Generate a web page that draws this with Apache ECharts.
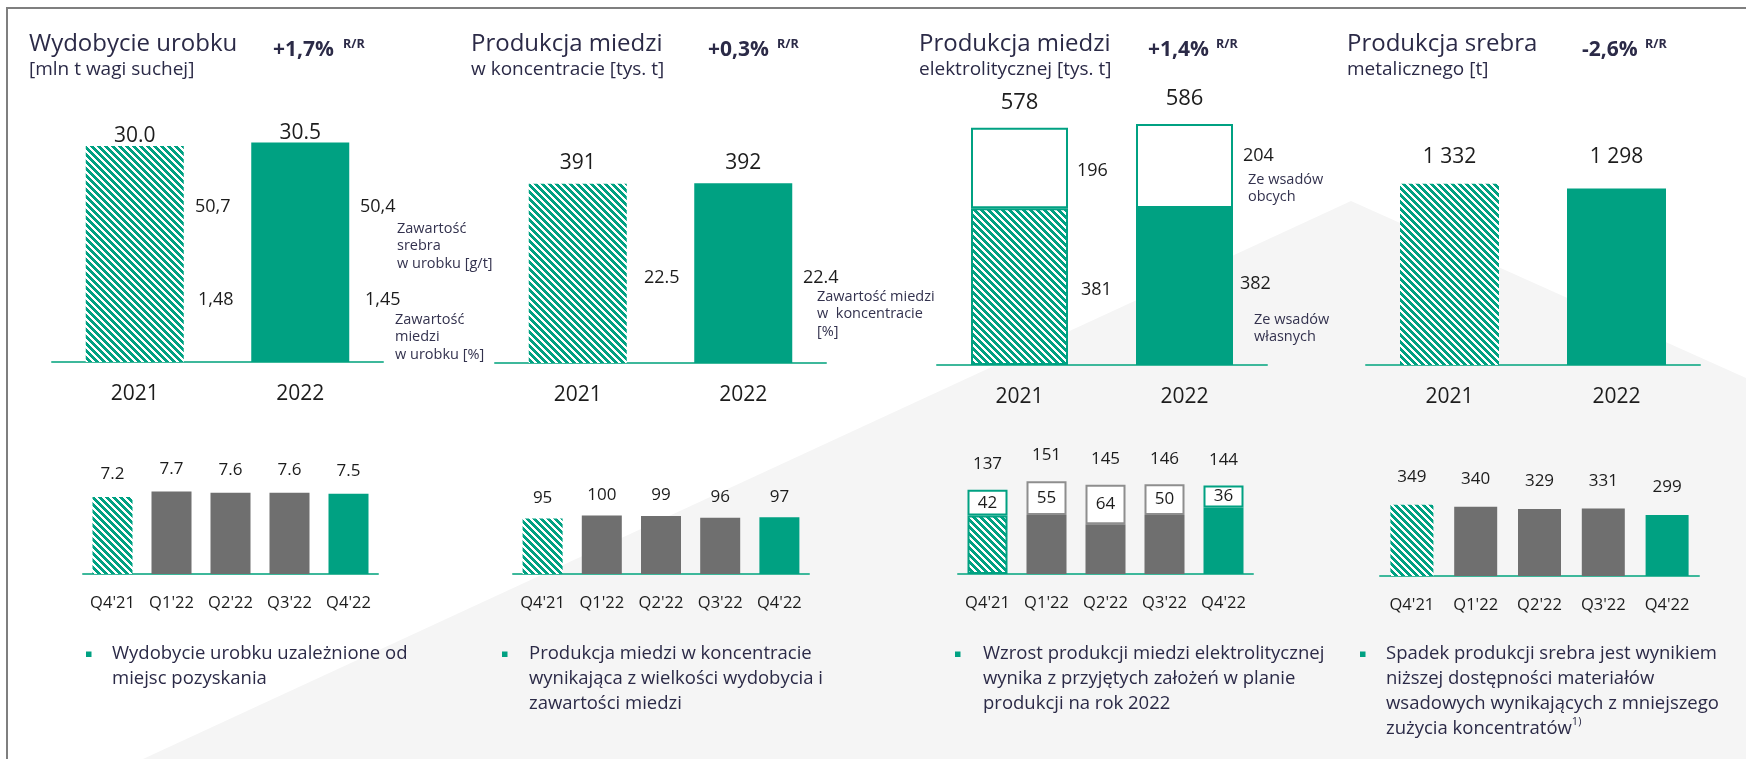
<!DOCTYPE html>
<html>
<head>
<meta charset="utf-8">
<script src="https://cdn.jsdelivr.net/npm/echarts@6/dist/echarts.min.js"></script>
<style>
  html, body { margin: 0; padding: 0; background: #fff; }
  #chart { width: 1746px; height: 759px; }
</style>
</head>
<body>
<div id="chart"></div>
<script>
const FONT = "'Open Sans', 'Noto Sans', sans-serif";
const teal = '#00a182';
const tealLine = '#3db89b';
const darkGray = '#6f6f6f';
const borderGray = '#8e8e8e';
const textDark = '#1c1c1c';
const navy = '#2b2a47';

// --- data ---
const years = ['2021', '2022'];
const quarters = ["Q4'21", "Q1'22", "Q2'22", "Q3'22", "Q4'22"];

const urobek = [30.0, 30.5];
const srebroWUrobku = ['50,7', '50,4'];
const miedzWUrobku = ['1,48', '1,45'];
const urobekQ = [7.2, 7.7, 7.6, 7.6, 7.5];

const miedzKonc = [391, 392];
const miedzWKonc = ['22.5', '22.4'];
const miedzKoncQ = [95, 100, 99, 96, 97];

const elektWlasne = [381, 382];
const elektObce = [196, 204];
const elektRazem = [578, 586];
const elektWlasneQ = [95, 96, 81, 96, 108];
const elektObceQ = [42, 55, 64, 50, 36];
const elektRazemQ = [137, 151, 145, 146, 144];

const srebro = [1332, 1298];
const srebroQ = [349, 340, 329, 331, 299];

const tytuly = ['Wydobycie urobku', 'Produkcja miedzi', 'Produkcja miedzi', 'Produkcja srebra'];
const podtytuly = ['[mln t wagi suchej]', 'w koncentracie [tys. t]', 'elektrolitycznej [tys. t]', 'metalicznego [t]'];
const zmiany = ['+1,7%', '+0,3%', '+1,4%', '-2,6%'];
const komentarze = [
  'Wydobycie urobku uzależnione od\nmiejsc pozyskania',
  'Produkcja miedzi w koncentracie\nwynikająca z wielkości wydobycia i\nzawartości miedzi',
  'Wzrost produkcji miedzi elektrolitycznej\nwynika z przyjętych założeń w planie\nprodukcji na rok 2022',
  'Spadek produkcji srebra jest wynikiem\nniższej dostępności materiałów\nwsadowych wynikających z mniejszego\nzużycia koncentratów{sup|1)}'
];

// --- hatch pattern ---
function makeHatch() {
  const s = 7;
  const c = document.createElement('canvas');
  c.width = s; c.height = s;
  const ctx = c.getContext('2d');
  ctx.fillStyle = '#fff';
  ctx.fillRect(0, 0, s, s);
  ctx.fillStyle = teal;
  for (let y = 0; y < s; y++) {
    for (let x = 0; x < s; x++) {
      if ((((x - y) % s) + s) % s < 4) ctx.fillRect(x, y, 1, 1);
    }
  }
  return c;
}
const hatchFill = { image: makeHatch(), repeat: 'repeat' };

function fillFor(i, n) {
  if (i === 0) return { color: hatchFill };
  if (i === n - 1) return { color: teal };
  return { color: darkGray };
}
function styled(values) {
  return values.map((v, i) => ({ value: v, itemStyle: fillFor(i, values.length) }));
}
const thousands = v => String(v).replace(/\B(?=(\d{3})+(?!\d))/g, ' ');

// --- layout ---
const grids = [
  { left: 52, top: 74, width: 331, height: 288 },
  { left: 495, top: 88, width: 331, height: 275 },
  { left: 937, top: 36, width: 330, height: 329 },
  { left: 1366, top: 93, width: 334, height: 272 },
  { left: 83, top: 467, width: 295, height: 107 },
  { left: 513, top: 457, width: 296, height: 117 },
  { left: 958, top: 451, width: 295, height: 123 },
  { left: 1380, top: 474, width: 319, height: 102 }
];
const yMax = [40, 600, 800, 2000, 10, 200, 200, 500];

function bar(idx, data, extra) {
  return Object.assign({
    type: 'bar',
    xAxisIndex: idx,
    yAxisIndex: idx,
    data: data,
    silent: true
  }, extra);
}
const topLabel = (dist, size, fmt) => ({
  show: true, position: 'top', distance: dist, fontSize: size,
  color: textDark, fontFamily: FONT, formatter: fmt
});

const series = [
  bar(0, styled(urobek), { barWidth: 98, label: topLabel(-1, 21, p => p.value.toFixed(1)) }),
  bar(1, styled(miedzKonc), { barWidth: 98, label: topLabel(10, 21) }),

  bar(2, elektWlasne.map((v, i) => ({
    value: v,
    itemStyle: i === 0 ? { color: hatchFill, borderColor: teal, borderWidth: 2 } : { color: teal },
    label: { distance: [13, 7][i], offset: [0, [3, -3][i]] }
  })), {
    barWidth: 97, stack: 'e', stackStrategy: 'all',
    label: { show: true, position: 'right', fontSize: 18, color: textDark, fontFamily: FONT }
  }),
  bar(2, elektObce.map((v, i) => ({
    value: v,
    itemStyle: { color: '#fff', borderColor: teal, borderWidth: 2 },
    label: { distance: [9, 10][i], offset: [0, [3, -10][i]] }
  })), {
    barWidth: 97, stack: 'e', stackStrategy: 'all',
    label: { show: true, position: 'right', fontSize: 18, color: textDark, fontFamily: FONT }
  }),
  bar(2, elektRazem.map(t => ({ value: 0, label: { formatter: String(t) } })), {
    barWidth: 97, stack: 'e', stackStrategy: 'all',
    itemStyle: { color: 'transparent' },
    label: topLabel(14, 22)
  }),

  bar(3, srebro.map((v, i) => ({
    value: v, itemStyle: fillFor(i, srebro.length), label: { distance: [16, 21][i] }
  })), { barWidth: 99, label: topLabel(16, 21, p => thousands(p.value)) }),

  bar(4, styled(urobekQ), { barWidth: 40, label: topLabel(14, 17, p => p.value.toFixed(1)) }),
  bar(5, styled(miedzKoncQ), { barWidth: 40, label: topLabel(12, 17) }),

  bar(6, elektWlasneQ.map((v, i) => {
    const st = fillFor(i, elektWlasneQ.length);
    if (i === 0) Object.assign(st, { borderColor: teal, borderWidth: 2 });
    return { value: v, itemStyle: st };
  }), { barWidth: 40, stack: 'q', stackStrategy: 'all' }),
  bar(6, elektObceQ.map((v, i) => ({
    value: v,
    itemStyle: {
      color: '#fff',
      borderColor: (i === 0 || i === elektObceQ.length - 1) ? teal : borderGray,
      borderWidth: 2
    }
  })), {
    barWidth: 40, stack: 'q', stackStrategy: 'all',
    label: { show: true, position: 'inside', fontSize: 17, color: textDark, fontFamily: FONT, textBorderWidth: 0 }
  }),
  bar(6, elektRazemQ.map(t => ({ value: 0, label: { formatter: String(t) } })), {
    barWidth: 40, stack: 'q', stackStrategy: 'all',
    itemStyle: { color: 'transparent' },
    label: topLabel(17, 17)
  }),

  bar(7, styled(srebroQ), { barWidth: 43, label: topLabel(19, 17) })
];

// --- decorations and texts ---
const g = [];
g.push({ type: 'polygon', z: -10, silent: true,
  shape: { points: [[143, 759], [1351, 201], [1746, 378], [1746, 759]] },
  style: { fill: '#f5f5f5' } });
g.push({ type: 'polyline', z: -5, silent: true,
  shape: { points: [[7, 759], [7, 8], [1746, 8]] },
  style: { stroke: '#7f7f7f', lineWidth: 2, fill: null } });

function txt(text, x, y, size, color, extra) {
  return {
    type: 'text', silent: true, z: 10,
    style: Object.assign({
      text: text, x: x, y: y, fill: color,
      fontSize: size, fontFamily: FONT,
      align: 'left', verticalAlign: 'middle',
      textAlign: 'left', textVerticalAlign: 'middle'
    }, extra || {})
  };
}

const titleX = [29, 471, 919, 1347];
const changeX = [273, 708, 1148, 1582];
const rrX = [343, 777, 1216, 1645];
tytuly.forEach((t, i) => {
  g.push(txt(t, titleX[i], 44, 24, navy));
  g.push(txt(podtytuly[i], titleX[i], 70, 19, navy));
  g.push(txt(zmiany[i], changeX[i], 50, 21, navy, { fontWeight: 'bold' }));
  g.push(txt('R/R', rrX[i], 44, 12.5, navy, { fontWeight: 'bold' }));
});

// side values panel 1 and 2
const sideSrebroX = [195, 360];
const sideMiedzX = [198, 365];
srebroWUrobku.forEach((s, i) => g.push(txt(s, sideSrebroX[i], 207, 18, textDark)));
miedzWUrobku.forEach((s, i) => g.push(txt(s, sideMiedzX[i], 300, 18, textDark)));
const sideKoncX = [644, 803];
miedzWKonc.forEach((s, i) => g.push(txt(s, sideKoncX[i], 278, 18, textDark)));

const noteStyle = { lineHeight: 17.5, verticalAlign: 'top', textVerticalAlign: 'top' };
const noteColor = '#33324e';
g.push(txt('Zawartość\nsrebra\nw urobku [g/t]', 397, 220, 14.5, noteColor, noteStyle));
g.push(txt('Zawartość\nmiedzi\nw urobku [%]', 395, 311, 14.5, noteColor, noteStyle));
g.push(txt('Zawartość miedzi\nw  koncentracie\n[%]', 817, 288, 14.5, noteColor, noteStyle));
g.push(txt('Ze wsadów\nobcych', 1248, 171, 14.5, noteColor, noteStyle));
g.push(txt('Ze wsadów\nwłasnych', 1254, 311, 14.5, noteColor, noteStyle));

// bullets
const bulletX = [86, 502, 955, 1360];
const bulletTextX = [112, 529, 983, 1386];
komentarze.forEach((k, i) => {
  g.push({ type: 'rect', silent: true, z: 10,
    shape: { x: bulletX[i], y: 651.5, width: 5.5, height: 5.5 },
    style: { fill: teal } });
  g.push(txt(k, bulletTextX[i], 641.5, 18.5, navy, {
    lineHeight: 25, verticalAlign: 'top', textVerticalAlign: 'top',
    rich: { sup: { fontSize: 11, lineHeight: 11, verticalAlign: 'top', fill: navy, fontFamily: FONT } }
  }));
});

const option = {
  animation: false,
  backgroundColor: '#ffffff',
  textStyle: { fontFamily: FONT },
  grid: grids.map(gr => Object.assign({ containLabel: false, outerBoundsMode: 'none' }, gr)),
  xAxis: grids.map((gr, i) => ({
    type: 'category',
    gridIndex: i,
    data: i < 4 ? years : quarters,
    axisLine: { lineStyle: { color: tealLine, width: 2 } },
    axisTick: { show: false },
    axisLabel: {
      interval: 0,
      hideOverlap: false,
      color: textDark, fontFamily: FONT,
      fontSize: i < 4 ? 21 : 16.5,
      margin: i < 4 ? 22 : 21
    }
  })),
  yAxis: yMax.map((m, i) => ({ type: 'value', gridIndex: i, min: 0, max: m, show: false })),
  series: series,
  graphic: { elements: g }
};

const myChart = echarts.init(document.getElementById('chart'), null, { renderer: 'canvas' });
myChart.setOption(option);
</script>
</body>
</html>
